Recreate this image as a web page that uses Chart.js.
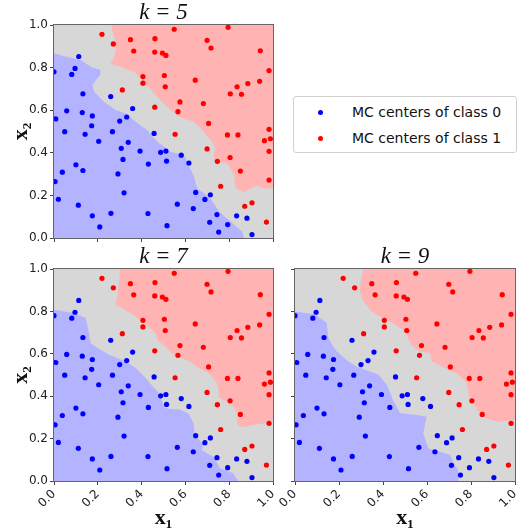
<!DOCTYPE html>
<html>
<head>
<meta charset="utf-8">
<script src="https://cdn.jsdelivr.net/npm/chart.js@4/dist/chart.umd.min.js"></script>
<style>
html, body { margin: 0; padding: 0; background: #fff; overflow: hidden; }
#wrap { position: relative; width: 520px; height: 532px; overflow: hidden; }
#wrap canvas { position: absolute; }
#legend { position: absolute; left: 293px; top: 96px; width: 224px; height: 57px; box-sizing: border-box;
  border: 1px solid #d0d0d0; border-radius: 3px; background: #fff;
  font-family: "DejaVu Sans", sans-serif; font-size: 14px; color: #111; }
#legend .row { position: absolute; left: 58px; height: 18px; line-height: 18px; white-space: nowrap; }
#legend .dot { position: absolute; left: -34px; top: 7px; width: 5px; height: 5px; border-radius: 50%; }
</style>
</head>
<body>
<div id="wrap">
  <canvas id="k5" width="285" height="250" style="left:0;top:0"></canvas>
  <canvas id="k7" width="285" height="288" style="left:0;top:244px"></canvas>
  <canvas id="k9" width="255" height="288" style="left:265px;top:244px"></canvas>
  <div id="legend">
    <div class="row" style="top:6px"><span class="dot" style="background:#0000ff"></span>MC centers of class 0</div>
    <div class="row" style="top:32px"><span class="dot" style="background:#ff0000"></span>MC centers of class 1</div>
  </div>
</div>
<script>
// MC centers (same in every panel)
const class0X = [0.00,0.113,0.096,0.081,0.132,0.259,0.058,0.129,0.175,0.008,0.359,0.300,0.332,0.172,0.049,0.142,0.267,0.204,0.339,0.307,0.393,0.457,0.315,0.431,0.487,0.511,0.514,0.581,0.616,0.005,0.038,0.100,0.132,0.292,0.320,0.020,0.111,0.175,0.209,0.260,0.429,0.516,0.563,0.636,0.647,0.689,0.714,0.711,0.744,0.752,0.793,0.834,0.881,0.904];
const class0Y = [0.78,0.852,0.796,0.768,0.677,0.664,0.597,0.589,0.573,0.559,0.608,0.549,0.568,0.527,0.499,0.487,0.499,0.454,0.449,0.421,0.408,0.491,0.369,0.347,0.402,0.408,0.361,0.389,0.352,0.265,0.309,0.344,0.317,0.301,0.212,0.182,0.154,0.104,0.052,0.116,0.115,0.058,0.159,0.138,0.214,0.181,0.203,0.074,0.110,0.028,0.063,0.104,0.093,0.016];
const class1X = [0.219,0.271,0.349,0.364,0.461,0.460,0.495,0.511,0.549,0.699,0.717,0.795,0.942,0.982,0.406,0.406,0.504,0.508,0.645,0.312,0.805,0.836,0.856,0.885,0.939,0.575,0.566,0.682,0.460,0.706,0.553,0.792,0.840,0.982,0.988,0.961,0.982,0.699,0.804,0.746,0.851,0.982,0.761,0.871,0.904,0.970];
const class1Y = [0.956,0.911,0.931,0.878,0.936,0.873,0.868,0.857,0.980,0.928,0.892,0.989,0.879,0.786,0.758,0.727,0.763,0.710,0.741,0.695,0.677,0.710,0.675,0.725,0.736,0.639,0.593,0.631,0.614,0.538,0.487,0.484,0.484,0.510,0.466,0.457,0.407,0.418,0.378,0.360,0.314,0.272,0.243,0.149,0.165,0.075];

const tickValues = [0, 0.2, 0.4, 0.6, 0.8, 1.0];
const tickLabels = ['0.0', '0.2', '0.4', '0.6', '0.8', '1.0'];

// decision regions, outlines in data units
const square = [[0,0],[1,0],[1,1],[0,1]];
const blue5 = [[0,0.867],[0.06,0.85],[0.122,0.836],[0.167,0.804],[0.213,0.789],[0.21,0.765],[0.185,0.734],[0.175,0.716],[0.183,0.687],[0.228,0.640],[0.282,0.601],[0.327,0.585],[0.373,0.546],[0.40,0.525],[0.426,0.507],[0.457,0.468],[0.48,0.445],[0.502,0.429],[0.532,0.405],[0.593,0.390],[0.609,0.358],[0.625,0.32],[0.639,0.288],[0.654,0.233],[0.685,0.21],[0.715,0.186],[0.735,0.155],[0.753,0.124],[0.78,0.10],[0.806,0.077],[0.835,0.05],[0.86,0.03],[0.867,0],[0,0]];
const red5 = [[0.262,1.0],[0.27,0.96],[0.282,0.922],[0.282,0.875],[0.27,0.84],[0.259,0.820],[0.28,0.81],[0.304,0.804],[0.335,0.79],[0.365,0.781],[0.39,0.757],[0.411,0.734],[0.435,0.705],[0.457,0.679],[0.48,0.655],[0.502,0.632],[0.532,0.601],[0.56,0.58],[0.586,0.562],[0.639,0.546],[0.669,0.515],[0.69,0.49],[0.715,0.460],[0.738,0.421],[0.730,0.398],[0.730,0.358],[0.79,0.351],[0.81,0.32],[0.822,0.296],[0.826,0.26],[0.829,0.235],[0.867,0.215],[0.90,0.235],[0.93,0.245],[0.96,0.232],[1.0,0.235],[1,1]];
const blue7 = [[0,0.808],[0.091,0.792],[0.145,0.769],[0.152,0.736],[0.160,0.698],[0.167,0.651],[0.198,0.627],[0.251,0.596],[0.327,0.564],[0.373,0.533],[0.419,0.486],[0.457,0.439],[0.475,0.42],[0.49,0.385],[0.505,0.345],[0.532,0.338],[0.570,0.338],[0.60,0.325],[0.616,0.315],[0.637,0.272],[0.643,0.217],[0.683,0.170],[0.674,0.146],[0.70,0.13],[0.727,0.115],[0.758,0.060],[0.818,0.036],[0.841,0],[0,0]];
const red7 = [[0.301,1.0],[0.297,0.939],[0.29,0.88],[0.282,0.829],[0.304,0.821],[0.335,0.80],[0.365,0.782],[0.411,0.743],[0.44,0.72],[0.464,0.695],[0.472,0.664],[0.502,0.640],[0.548,0.593],[0.593,0.577],[0.624,0.561],[0.654,0.538],[0.700,0.514],[0.730,0.483],[0.746,0.459],[0.750,0.43],[0.753,0.395],[0.791,0.373],[0.822,0.350],[0.837,0.311],[0.837,0.264],[0.86,0.255],[0.898,0.262],[0.959,0.272],[1.0,0.285],[1,1]];
const blue9 = [[0,0.80],[0.091,0.785],[0.144,0.746],[0.152,0.675],[0.17,0.64],[0.189,0.612],[0.242,0.564],[0.28,0.54],[0.318,0.525],[0.379,0.502],[0.417,0.454],[0.435,0.41],[0.447,0.376],[0.465,0.345],[0.477,0.319],[0.52,0.315],[0.56,0.31],[0.598,0.303],[0.583,0.225],[0.606,0.154],[0.65,0.14],[0.705,0.123],[0.727,0.075],[0.742,0.052],[0.742,0],[0,0]];
const red9 = [[0.311,1.0],[0.30,0.95],[0.295,0.891],[0.311,0.848],[0.348,0.801],[0.394,0.770],[0.455,0.738],[0.5,0.706],[0.515,0.67],[0.53,0.643],[0.561,0.612],[0.614,0.604],[0.621,0.565],[0.682,0.533],[0.742,0.502],[0.780,0.463],[0.788,0.414],[0.795,0.392],[0.811,0.366],[0.833,0.329],[0.871,0.296],[0.909,0.282],[0.932,0.280],[1.0,0.288],[1,1]];

Chart.defaults.font.family = '"DejaVu Sans", sans-serif';
Chart.defaults.font.size = 12;
Chart.defaults.color = '#222';

const toPoints = (xs, ys) => xs.map((x, i) => ({x: x, y: ys[i]}));
const toPoly = arr => arr.map(p => ({x: p[0], y: p[1]}));

// frame around the plot area (matplotlib spines)
const framePlugin = {
    id: 'frame',
    afterDatasetsDraw(chart) {
        const a = chart.chartArea;
        const ctx = chart.ctx;
        ctx.save();
        ctx.strokeStyle = '#666';
        ctx.lineWidth = 1;
        ctx.strokeRect(a.left - 0.5, a.top - 0.5, a.right - a.left + 1, a.bottom - a.top + 1);
        ctx.restore();
    }
};

function regionSet(poly, color) {
    return {
        data: toPoly(poly),
        showLine: true,
        fill: 'shape',
        backgroundColor: color,
        borderColor: 'rgba(0,0,0,0)',
        borderWidth: 0,
        pointRadius: 0,
        pointHoverRadius: 0
    };
}

function makeAxis(isX, showLabels, title, size) {
    const axisTitle = title ? {
        display: true,
        text: title,
        color: '#111',
        font: {family: '"Liberation Serif", "DejaVu Serif", serif', size: 22, weight: 'bold', lineHeight: 1.2},
        padding: {top: isX ? 7 : 8, bottom: 0}
    } : {display: false};
    return {
        type: 'linear',
        min: 0,
        max: 1,
        afterBuildTicks: s => { s.ticks = tickValues.map(v => ({value: v})); },
        ticks: {
            display: showLabels,
            autoSkip: false,
            padding: 2,
            minRotation: isX ? 45 : 0,
            maxRotation: isX ? 45 : 0,
            callback: (v, i) => tickLabels[i]
        },
        grid: {drawOnChartArea: false, drawTicks: true, tickLength: 4, tickColor: '#444', color: '#444'},
        border: {display: false},
        title: axisTitle,
        afterFit: s => {
            if (isX) { s.height = size; s.paddingLeft = 0; s.paddingRight = 0; }
            else { s.width = size; }
        }
    };
}

function makePanel(id, titleText, blue, red, cfg) {
    new Chart(document.getElementById(id), {
        type: 'scatter',
        data: {
            datasets: [
                {label: 'MC centers of class 0', data: toPoints(class0X, class0Y), backgroundColor: '#0000ff', borderWidth: 0, pointRadius: 2.6},
                {label: 'MC centers of class 1', data: toPoints(class1X, class1Y), backgroundColor: '#ff0000', borderWidth: 0, pointRadius: 2.6},
                regionSet(red, '#ffb3b3'),
                regionSet(blue, '#b3b3ff'),
                regionSet(square, '#d7d7d7')
            ]
        },
        options: {
            responsive: false,
            animation: false,
            layout: {padding: {left: 0, right: cfg.padRight, top: 0, bottom: 0}},
            scales: {
                x: makeAxis(true, cfg.xLabels, cfg.xLabels ? 'x\u2081' : null, cfg.xHeight),
                y: makeAxis(false, cfg.yLabels, cfg.yLabels ? 'x\u2082' : null, cfg.yWidth)
            },
            plugins: {
                legend: {display: false},
                tooltip: {enabled: false},
                title: {
                    display: true,
                    text: titleText,
                    fullSize: false,
                    color: '#111',
                    font: {family: '"Liberation Serif", "DejaVu Serif", serif', size: 23, style: 'italic', weight: 'normal', lineHeight: 1},
                    padding: {top: 1, bottom: 1}
                }
            }
        },
        plugins: [framePlugin]
    });
}

makePanel('k5', 'k = 5', blue5, red5, {padRight: 12, xLabels: false, yLabels: true, xHeight: 12, yWidth: 54});
makePanel('k7', 'k = 7', blue7, red7, {padRight: 12, xLabels: true, yLabels: true, xHeight: 51, yWidth: 54});
makePanel('k9', 'k = 9', blue9, red9, {padRight: 5, xLabels: true, yLabels: false, xHeight: 51, yWidth: 30});
</script>
</body>
</html>
